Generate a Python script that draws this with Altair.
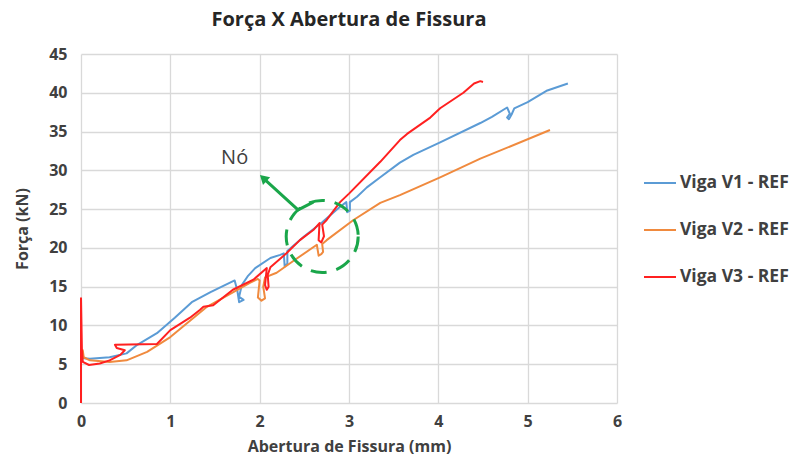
import altair as alt
import pandas as pd

# Crack-opening (mm) vs load (kN) for each reference beam
v1_x = [0.00, 0.10, 0.32, 0.51, 0.63, 0.85, 1.05, 1.24, 1.45, 1.72, 1.75, 1.77, 1.82, 1.77, 1.80,
        1.87, 1.95, 2.12, 2.23, 2.27, 2.28, 2.31, 2.31, 2.50, 2.70, 2.90, 2.97, 2.98, 3.01, 3.01, 3.09,
        3.20, 3.35, 3.57, 3.72, 4.02, 4.47, 4.60, 4.77, 4.80, 4.77, 4.79, 4.82, 4.85, 5.00, 5.22, 5.45]
v1_y = [5.8, 5.7, 5.9, 6.4, 7.5, 9.0, 11.0, 13.0, 14.3, 15.8, 14.5, 13.0, 13.3, 13.7, 15.2,
        16.4, 17.4, 18.7, 19.1, 19.3, 17.6, 18.0, 19.6, 21.5, 23.3, 25.3, 25.9, 24.6, 24.8, 25.9, 26.6,
        27.8, 29.1, 31.0, 32.0, 33.6, 36.1, 36.9, 38.1, 37.3, 36.8, 36.6, 37.2, 38.0, 38.8, 40.3, 41.2]

v2_x = [0.00, 0.02, 0.03, 0.10, 0.32, 0.51, 0.74, 1.00, 1.41, 1.89, 1.98, 2.00, 1.98, 2.02, 2.06,
        2.04, 2.06, 2.19, 2.40, 2.64, 2.66, 2.69, 2.71, 2.70, 2.75, 3.05, 3.35, 3.57, 4.02, 4.47, 5.25]
v2_y = [5.8, 6.8, 5.9, 5.5, 5.3, 5.5, 6.6, 8.5, 12.4, 15.5, 16.0, 15.8, 13.6, 13.2, 13.5,
        15.0, 16.2, 16.8, 18.5, 20.4, 19.0, 19.2, 19.5, 20.5, 21.0, 23.6, 25.8, 26.8, 29.1, 31.5, 35.2]

v3_x = [0.00, 0.00, 0.01, 0.02, 0.09, 0.21, 0.32, 0.44, 0.49, 0.40, 0.38, 0.85, 1.00, 1.22, 1.33,
        1.37, 1.48, 1.70, 1.93, 2.08, 2.06, 2.08, 2.10, 2.09, 2.12, 2.30, 2.45, 2.60, 2.67, 2.66,
        2.69, 2.72, 2.70, 2.75, 2.90, 3.00, 3.35, 3.57, 3.65, 3.91, 4.02, 4.28, 4.40, 4.47, 4.50]
v3_y = [0.0, 13.5, 7.0, 5.3, 4.9, 5.1, 5.5, 6.2, 6.8, 7.1, 7.5, 7.6, 9.4, 11.0, 12.0,
        12.4, 12.6, 14.6, 15.9, 17.4, 15.2, 14.6, 15.0, 16.5, 17.5, 19.3, 21.0, 22.3, 23.2, 21.0,
        20.7, 21.5, 23.0, 23.6, 25.9, 27.0, 31.1, 33.9, 34.7, 36.8, 38.0, 40.0, 41.2, 41.5, 41.4]

series_names = ["Viga V1 - REF", "Viga V2 - REF", "Viga V3 - REF"]
series_colors = ["#5B9BD5", "#F08A3E", "#FF2020"]

# Node annotation: dashed circle, arrow and label
node_x, node_y = [2.70], [21.47]
arrow_x = [2.04, 2.43, 2.60]
arrow_y = [29.0, 24.9, 25.9]
head_x, head_y = [2.04], [29.0]
label_x, label_y, label_text = [1.72], [31.6], ["Nó"]

x_ticks = [0, 1, 2, 3, 4, 5, 6]
y_ticks = [0, 5, 10, 15, 20, 25, 30, 35, 40, 45]

rows = []
for name, xs, ys in zip(series_names, [v1_x, v2_x, v3_x], [v1_y, v2_y, v3_y]):
    for i, (a, b) in enumerate(zip(xs, ys)):
        rows.append({"serie": name, "abertura": a, "forca": b, "ordem": i})
df = pd.DataFrame(rows)

FONT = "Open Sans"
x_scale = alt.Scale(domain=[0, 6], nice=False)
y_scale = alt.Scale(domain=[0, 45], nice=False)

x_axis = alt.Axis(title="Abertura de Fissura (mm)", values=x_ticks, format="d",
                  grid=True, ticks=False, domain=False, labelPadding=10, titlePadding=9,
                  labelOverlap=False, labelFlush=False)
y_axis = alt.Axis(title="Força (kN)", values=y_ticks, format="d",
                  grid=True, ticks=False, domain=False, labelPadding=14, titlePadding=18,
                  labelOverlap=False, labelFlush=False)


def xenc(field):
    return alt.X(field, scale=x_scale, axis=x_axis)


def yenc(field):
    return alt.Y(field, scale=y_scale, axis=y_axis)


lines = alt.Chart(df).mark_line(strokeWidth=2, strokeJoin="round").encode(
    x=xenc("abertura:Q"),
    y=yenc("forca:Q"),
    color=alt.Color("serie:N",
                    scale=alt.Scale(domain=series_names, range=series_colors),
                    legend=alt.Legend(title=None, orient="none", legendX=562, legendY=112,
                                      symbolType="stroke", symbolSize=1024,
                                      symbolStrokeWidth=2, rowPadding=21,
                                      labelOffset=3)),
    order="ordem:Q",
)

circle = alt.Chart(pd.DataFrame({"x": node_x, "y": node_y})).mark_point(
    shape="circle", size=5184, filled=False, color="#1AA64A",
    strokeWidth=3, strokeDash=[16, 10], opacity=1,
).encode(x=xenc("x:Q"), y=yenc("y:Q"))

arrow = alt.Chart(pd.DataFrame({"x": arrow_x, "y": arrow_y, "o": [0, 1, 2]})).mark_line(
    color="#1AA64A", strokeWidth=3,
).encode(x=xenc("x:Q"), y=yenc("y:Q"), order="o:Q")

head = alt.Chart(pd.DataFrame({"x": head_x, "y": head_y})).mark_point(
    shape="triangle-up", size=110, filled=True, color="#1AA64A", angle=313, opacity=1,
).encode(x=xenc("x:Q"), y=yenc("y:Q"))

label = alt.Chart(pd.DataFrame({"x": label_x, "y": label_y, "t": label_text})).mark_text(
    font=FONT, fontSize=20, color="#404040", align="center", baseline="middle",
).encode(x=xenc("x:Q"), y=yenc("y:Q"), text="t:N")

chart = alt.layer(lines, arrow, head, circle, label).properties(
    width=536, height=349,
    title=alt.TitleParams("Força X Abertura de Fissura", font=FONT, fontSize=20,
                          fontWeight="bold", color="#262626", anchor="middle", offset=16),
    autosize=alt.AutoSizeParams(type="none"),
    padding={"left": 81, "top": 54, "right": 178, "bottom": 53},
).configure_view(stroke=None).configure_axis(
    labelFont=FONT, labelFontSize=16, labelFontWeight="bold", labelColor="#404040",
    titleFont=FONT, titleFontSize=16, titleFontWeight="bold", titleColor="#404040",
    gridColor="#D9D9D9", gridWidth=1.3,
).configure_legend(
    labelFont=FONT, labelFontSize=17.5, labelFontWeight="bold", labelColor="#404040",
)

chart.save("out.html", embed_options={"renderer": "svg", "actions": False})
